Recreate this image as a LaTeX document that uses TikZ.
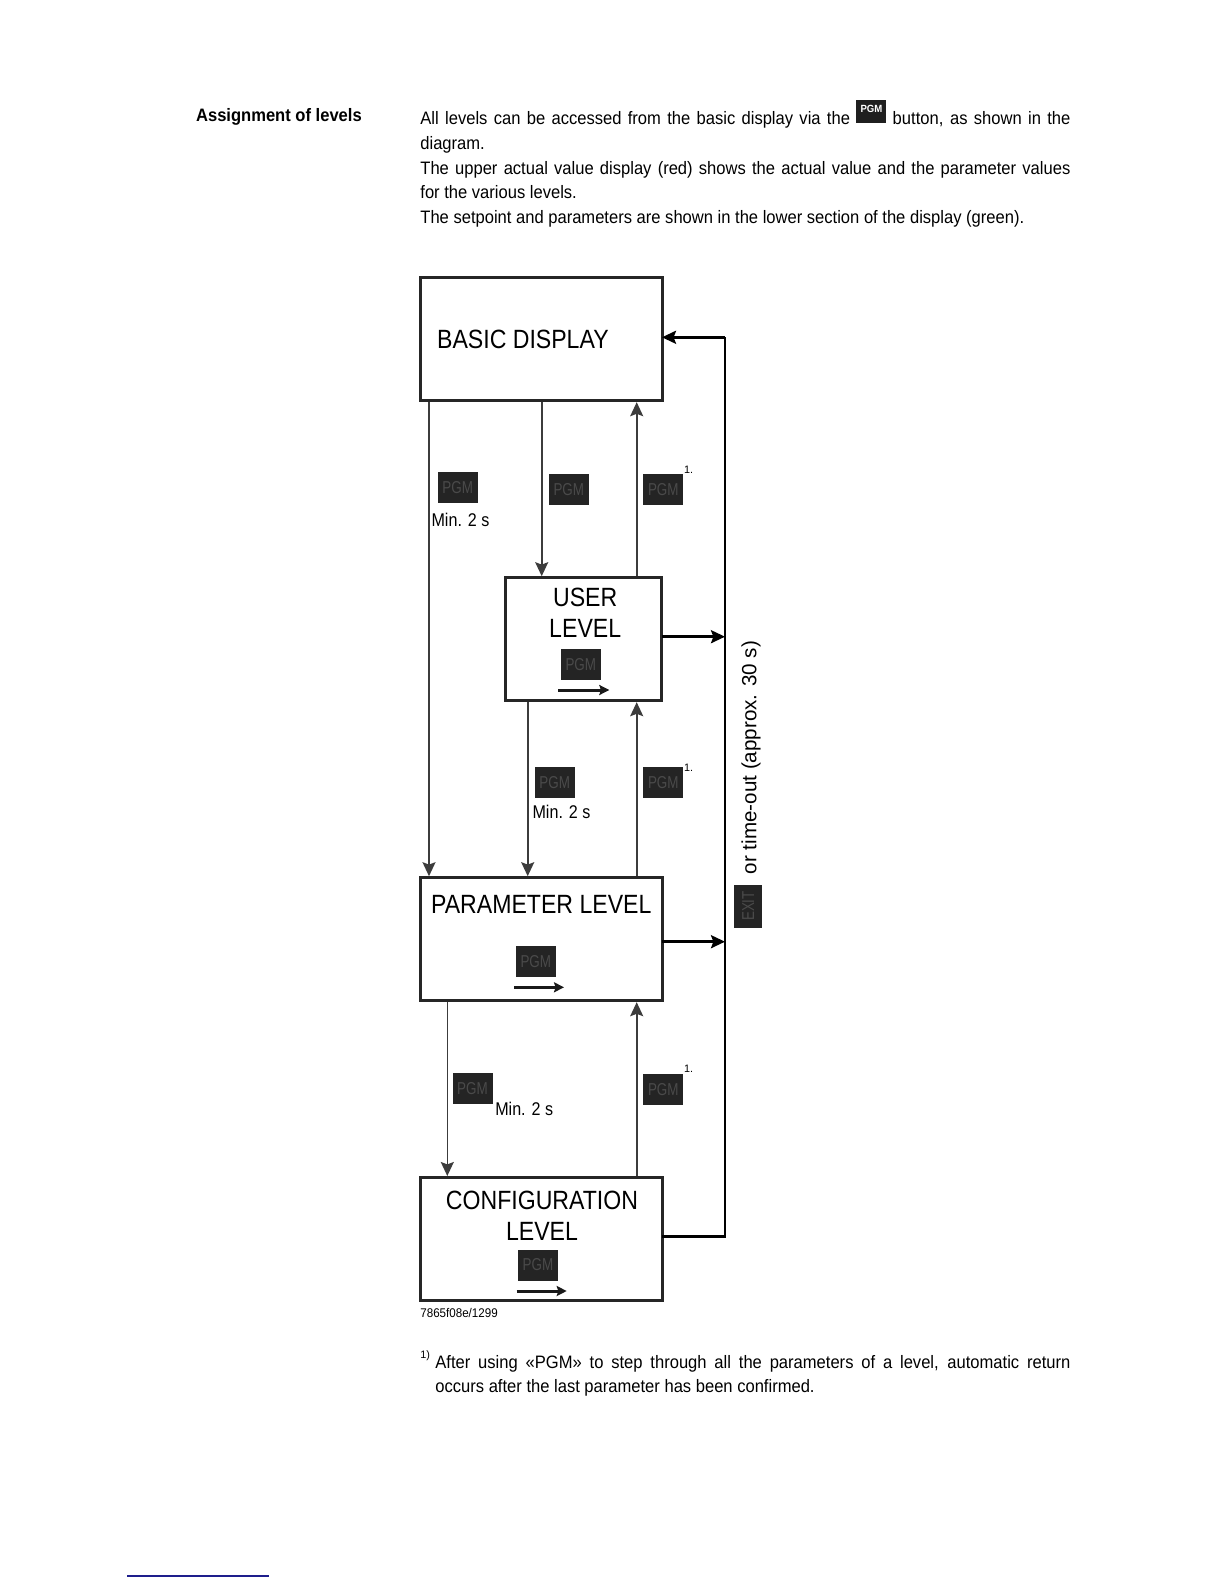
\documentclass[tikz,border=0pt]{standalone}
\usepackage{fontspec}
\setmainfont{Liberation Sans}
\newfontfamily\bodyfam[FakeStretch=0.92]{Liberation Sans}
\newfontfamily\diagfam[FakeStretch=0.875]{Liberation Sans}
\newfontfamily\keyfam[FakeStretch=0.78]{Liberation Sans}
\usetikzlibrary{arrows.meta}
\definecolor{keybg}{HTML}{242424}
\definecolor{keytx}{HTML}{4A4A4A}
\definecolor{linegray}{HTML}{3C3C3C}
\definecolor{footblue}{HTML}{1E1E8C}
\newcommand{\inlinepgm}{{\setlength{\fboxsep}{0pt}\raisebox{0.85pt}{\colorbox{black!88}{\makebox[15pt]{\rule{0pt}{11.65pt}\raisebox{5.5pt}{\textcolor{white}{\fontsize{5.2}{6}\selectfont\bfseries PGM}}}}}}}
\tikzset{
  lvlbox/.style={draw=black!85, line width=1.5pt, minimum height=61.5pt, inner sep=0pt},
  lvltext/.style={font=\diagfam\fontsize{13.2}{15.2}\selectfont, align=center, inner sep=0pt},
  pgmkey/.style={fill=keybg, text=keytx, minimum width=20pt, minimum height=15.5pt, inner sep=0pt, font=\keyfam\fontsize{8.6}{9}\selectfont},
  mintext/.style={font=\diagfam\fontsize{9.2}{10}\selectfont, inner sep=0pt},
  notemark/.style={font=\fontsize{5.4}{6}\selectfont, inner sep=0pt},
  arrowtip/.style={-{Stealth[length=7pt,width=6.5pt,inset=1.2pt]}},
  thinline/.style={draw=linegray, line width=0.8pt, arrowtip},
  loopline/.style={draw=black, line width=1.3pt},
  innerarrow/.style={draw=black!90, line width=1.5pt, -{Stealth[length=5pt,width=5pt,inset=0.8pt]}},
  bodytext/.style={font=\bodyfam\fontsize{9}{12.3}\selectfont, inner sep=0pt}
}
\begin{document}
\begin{tikzpicture}[x=0.5pt,y=-0.5pt]
\useasboundingbox (0,0) rectangle (1224,1584);
\fill[white] (0,0) rectangle (1224,1584);

% ---------- header text ----------
\node[bodytext, font=\bodyfam\bfseries\fontsize{9}{12.3}\selectfont, anchor=base west] (head) at (195.7,121) {Assignment of levels};
\node[bodytext, anchor=base west, text width=325pt, align=justify] (intro) at (420,125)
 {All levels can be accessed from the basic display via the \inlinepgm{} button, as shown in the\linebreak diagram.\\
  The upper actual value display (red) shows the actual value and the parameter values\linebreak for the various levels.\\
  The setpoint and parameters are shown in the lower section of the display (green).};

% ---------- level boxes ----------
\node[lvlbox, minimum width=121pt] (basic) at (541,339.2) {};
\node[lvlbox, minimum width=78pt] (user) at (583.9,639.2) {};
\node[lvlbox, minimum width=121pt] (param) at (541,939.2) {};
\node[lvlbox, minimum width=121pt] (config) at (541,1239) {};

\node[lvltext, anchor=west] (basictxt) at (436.7,339.5) {BASIC DISPLAY};
\node[lvltext] (usertxt) at (585.2,612.7) {USER\\LEVEL};
\node[lvltext] (paramtxt) at (541.3,904.2) {PARAMETER LEVEL};
\node[lvltext] (configtxt) at (542,1215.8) {CONFIGURATION\\LEVEL};

% keys inside boxes
\node[pgmkey] (ukey) at (580.8,664.7) {PGM};
\node[pgmkey] (pkey) at (535.8,961.3) {PGM};
\node[pgmkey] (ckey) at (538,1265) {PGM};
\coordinate (ua1) at (558.3,690); \coordinate (ua2) at (609.3,690);
\coordinate (pa1) at (514,987.3); \coordinate (pa2) at (564,987.3);
\coordinate (ca1) at (516.7,1291); \coordinate (ca2) at (566.7,1291);
\draw[innerarrow] (ua1) -- (ua2);
\draw[innerarrow] (pa1) -- (pa2);
\draw[innerarrow] (ca1) -- (ca2);

% ---------- columns ----------
\coordinate (colA) at (429,0);
\coordinate (colB) at (541.7,0);
\coordinate (colC) at (636.7,0);
\coordinate (colD) at (527.7,0);
\coordinate (colE) at (447.3,0);
\coordinate (rt) at (725,0);

\draw[thinline] (basic.south -| colA) -- (param.north -| colA);
\draw[thinline] (basic.south -| colB) -- (user.north -| colB);
\draw[thinline] (user.north -| colC) -- (basic.south -| colC);
\draw[thinline] (user.south -| colD) -- (param.north -| colD);
\draw[thinline] (param.north -| colC) -- (user.south -| colC);
\draw[thinline] (param.south -| colE) -- (config.north -| colE);
\draw[thinline] (config.north -| colC) -- (param.south -| colC);

% ---------- exit loop ----------
\coordinate (ucon) at (662,636.7);
\coordinate (pcon) at (662,941.7);
\coordinate (ccon) at (662,1236.7);
\coordinate (bcon) at (662,337.3);
\draw[loopline] (ccon) -- (ccon -| rt) -- (bcon -| rt);
\draw[loopline, arrowtip] (bcon -| rt) -- (bcon);
\draw[loopline, arrowtip] (ucon) -- (ucon -| rt);
\draw[loopline, arrowtip] (pcon) -- (pcon -| rt);

% ---------- key labels on connectors ----------
\node[pgmkey] (k1) at (457.7,487.8) {PGM};
\node[mintext] (m1) at (460.5,520) {Min. 2 s};
\node[pgmkey] (k2) at (568.8,489.8) {PGM};
\node[pgmkey] (k3) at (663.3,489.8) {PGM};
\node[notemark] (n1) at (688.5,469.5) {1.};

\node[pgmkey] (k4) at (554.7,782.7) {PGM};
\node[mintext] (m2) at (561.5,812) {Min. 2 s};
\node[pgmkey] (k5) at (663.3,782.7) {PGM};
\node[notemark] (n2) at (688.5,767.5) {1.};

\node[pgmkey] (k6) at (472.5,1088.5) {PGM};
\node[mintext] (m3) at (524.2,1108.8) {Min. 2 s};
\node[pgmkey] (k7) at (663.3,1089.3) {PGM};
\node[notemark] (n3) at (688.5,1069) {1.};

\node[pgmkey, rotate=90, minimum width=21.5pt, minimum height=14pt] (exit) at (748.3,906) {EXIT};
\node[rotate=90, font=\fontsize{10.3}{11}\selectfont, inner sep=0pt] (timeout) at (751,757.5) {or time-out (approx. 30 s)};

% ---------- figure id & footnote ----------
\node[font=\bodyfam\fontsize{6.3}{7}\selectfont, inner sep=0pt, anchor=base west] (figid) at (420,1317.3) {7865f08e/1299};
\node[notemark, anchor=north west] (fnmark) at (420,1350) {1)};
\node[bodytext, anchor=base west, text width=317.5pt, align=justify] (foot) at (435,1368.3)
 {After using «PGM» to step through all the parameters of a level, automatic return\linebreak occurs after the last parameter has been confirmed.};

\coordinate (bl1) at (127,1576); \coordinate (bl2) at (269,1576);
\draw[footblue, line width=1pt] (bl1) -- (bl2);
\end{tikzpicture}
\end{document}
